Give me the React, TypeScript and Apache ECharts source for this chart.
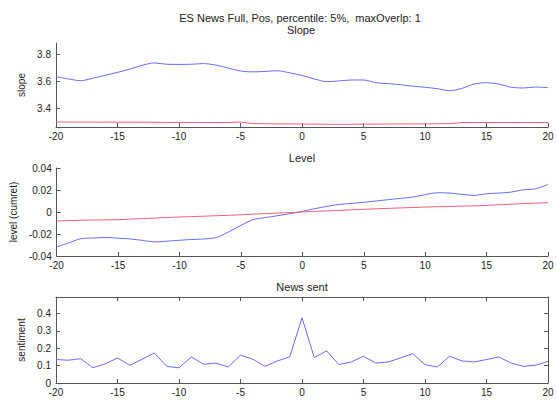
import React, { useEffect, useRef } from "react";
import * as echarts from "echarts";

const xs = [-20,-19,-18,-17,-16,-15,-14,-13,-12,-11,-10,-9,-8,-7,-6,-5,-4,-3,-2,-1,0,1,2,3,4,5,6,7,8,9,10,11,12,13,14,15,16,17,18,19,20];

const slopeBlue = [3.636,3.62,3.607,3.625,3.647,3.668,3.692,3.72,3.738,3.728,3.727,3.728,3.733,3.722,3.7,3.678,3.672,3.675,3.68,3.665,3.645,3.62,3.6,3.605,3.612,3.612,3.592,3.585,3.577,3.567,3.558,3.548,3.533,3.55,3.582,3.592,3.582,3.558,3.553,3.56,3.555];
const slopeRed = [3.302,3.302,3.301,3.301,3.301,3.3,3.3,3.3,3.3,3.299,3.299,3.299,3.298,3.298,3.298,3.302,3.29,3.289,3.288,3.288,3.287,3.286,3.285,3.285,3.285,3.286,3.286,3.287,3.287,3.288,3.288,3.289,3.29,3.298,3.298,3.298,3.298,3.298,3.298,3.298,3.298];

const levelBlue = [-0.0317,-0.028,-0.0242,-0.0236,-0.0232,-0.0238,-0.0245,-0.0258,-0.0272,-0.0265,-0.0257,-0.025,-0.0245,-0.0232,-0.0181,-0.0121,-0.0069,-0.0051,-0.0033,-0.0015,0.0006,0.003,0.0051,0.0069,0.0078,0.0088,0.01,0.0112,0.0124,0.0136,0.0157,0.0175,0.0172,0.016,0.0151,0.0166,0.0172,0.0181,0.0202,0.0211,0.025];
const levelRed = [-0.0082,-0.0078,-0.0075,-0.0073,-0.0071,-0.007,-0.0065,-0.006,-0.0055,-0.005,-0.0045,-0.0042,-0.0038,-0.0034,-0.003,-0.0025,-0.002,-0.0015,-0.001,-0.0005,0,0.0005,0.001,0.0015,0.002,0.0025,0.0029,0.0033,0.0037,0.0041,0.0045,0.0048,0.005,0.0053,0.0056,0.006,0.0066,0.0071,0.0076,0.008,0.0085];

const sentiment = [0.135,0.131,0.14,0.088,0.11,0.144,0.102,0.137,0.173,0.096,0.087,0.15,0.108,0.115,0.092,0.16,0.137,0.096,0.127,0.15,0.375,0.146,0.185,0.106,0.121,0.154,0.115,0.121,0.144,0.169,0.106,0.092,0.154,0.127,0.121,0.135,0.15,0.115,0.096,0.102,0.125];

const xTicks = [-20,-15,-10,-5,0,5,10,15,20];
const slopeTicks = [3.4,3.6,3.8];
const levelTicks = [-0.04,-0.02,0,0.02,0.04];
const sentTicks = [0,0.1,0.2,0.3,0.4];

const titles = ["ES News Full, Pos, percentile: 5%,  maxOverlp: 1", "Slope", "Level", "News sent"];
const yNames = ["slope", "level (cumret)", "sentiment"];

const FONT = "Liberation Sans, Arial, Helvetica, sans-serif";
const BLUE = "#6b6bf2";
const RED = "#f0607a";
const AXIS = "#555";

const pairs = (ys: number[]) => xs.map((x, i) => [x, ys[i]]);

export default function App() {
  const ref = useRef<HTMLDivElement>(null);
  useEffect(() => {
    if (!ref.current) return;
    const chart = echarts.init(ref.current, null, { renderer: "svg" });
    const grids = [
      { left: 56, right: 9, top: 43, height: 84 },
      { left: 56, right: 9, top: 168, height: 88 },
      { left: 56, right: 9, top: 297, height: 86 },
    ];
    const labelStyle = { color: "#222", fontSize: 10, fontFamily: FONT };
    const mkX = (g: number, extra: any = {}) => ({
      type: "value", gridIndex: g, min: -20, max: 20,
      axisLine: { show: true, onZero: false, lineStyle: { color: AXIS, width: 1 } },
      axisTick: { show: true, inside: true, length: 4, customValues: xTicks, lineStyle: { color: AXIS } },
      axisLabel: { ...labelStyle, margin: 4, customValues: xTicks, formatter: (v: number) => String(v) },
      splitLine: { show: false },
      ...extra,
    });
    const mkY = (g: number, min: number, max: number, ticks: number[], name: string, fmt: (v: number) => string, extra: any = {}) => ({
      type: "value", gridIndex: g, min, max,
      name, nameLocation: "middle", nameGap: 30,
      nameTextStyle: { color: "#222", fontSize: 10, fontFamily: FONT },
      axisLine: { show: true, onZero: false, lineStyle: { color: AXIS, width: 1 } },
      axisTick: { show: true, inside: true, length: 4, customValues: ticks, lineStyle: { color: AXIS } },
      axisLabel: { ...labelStyle, margin: 5, customValues: ticks, formatter: fmt },
      splitLine: { show: false },
      ...extra,
    });
    const fmtPlain = (v: number) => String(Math.round(v * 1000) / 1000);
    const ts = { fontSize: 11, fontWeight: "normal", color: "#222", fontFamily: FONT };
    const option: any = {
      animation: false,
      backgroundColor: "#fff",
      title: [
        { text: titles[0], left: 300, top: 12, padding: 0, textAlign: "center", textStyle: ts },
        { text: titles[1], left: 301, top: 24, padding: 0, textAlign: "center", textStyle: ts },
        { text: titles[2], left: 302, top: 152, padding: 0, textAlign: "center", textStyle: ts },
        { text: titles[3], left: 302, top: 281, padding: 0, textAlign: "center", textStyle: ts },
      ],
      grid: grids,
      xAxis: [
        mkX(0),
        mkX(1),
        mkX(2),
        mkX(2, { position: "top", axisLabel: { show: false } }),
      ],
      yAxis: [
        mkY(0, 3.265, 3.885, slopeTicks, yNames[0], fmtPlain, { nameGap: 29 }),
        mkY(1, -0.04, 0.04, levelTicks, yNames[1], fmtPlain, { nameGap: 38 }),
        mkY(2, 0, 0.495, sentTicks, yNames[2], fmtPlain, { nameGap: 30 }),
        mkY(2, 0, 0.495, sentTicks, "", fmtPlain, { position: "right", axisLabel: { show: false } }),
      ],
      series: [
        { type: "line", xAxisIndex: 0, yAxisIndex: 0, data: pairs(slopeBlue), showSymbol: false, smooth: 0.3, lineStyle: { color: BLUE, width: 1 } },
        { type: "line", xAxisIndex: 0, yAxisIndex: 0, data: pairs(slopeRed), showSymbol: false, lineStyle: { color: RED, width: 1 } },
        { type: "line", xAxisIndex: 1, yAxisIndex: 1, data: pairs(levelBlue), showSymbol: false, smooth: 0.3, lineStyle: { color: BLUE, width: 1 } },
        { type: "line", xAxisIndex: 1, yAxisIndex: 1, data: pairs(levelRed), showSymbol: false, lineStyle: { color: RED, width: 1 } },
        { type: "line", xAxisIndex: 2, yAxisIndex: 2, data: pairs(sentiment), showSymbol: false, lineStyle: { color: BLUE, width: 1 } },
      ],
    };
    chart.setOption(option);
    return () => chart.dispose();
  }, []);
  return <div ref={ref} style={{ position: "absolute", left: 0, top: 0, width: 557, height: 405 }} />;
}
